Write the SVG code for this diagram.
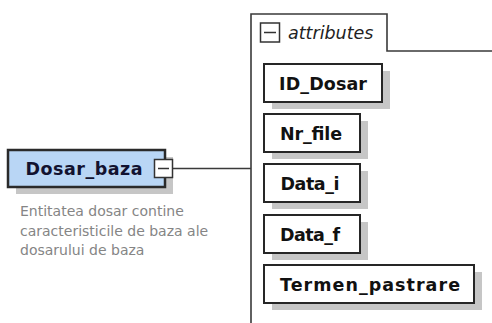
<svg xmlns="http://www.w3.org/2000/svg" width="492" height="323" viewBox="0 0 492 323">
<style>
.shadow{fill:#c6c6c6}
.box{fill:#ffffff;stroke:#262626;stroke-width:2}
.ent{fill:#b9d6f5;stroke:#2a2a2a;stroke-width:2.5}
.lbl{font-family:"DejaVu Sans",sans-serif;font-weight:bold;font-size:17.5px;fill:#111111;text-anchor:middle}
.entlbl{font-family:"DejaVu Sans",sans-serif;font-weight:bold;font-size:17.5px;fill:#121230;text-anchor:middle}
.desc{font-family:"DejaVu Sans",sans-serif;font-size:14px;fill:#858585}
.tab{font-family:"DejaVu Sans",sans-serif;font-style:italic;font-size:17.5px;fill:#222222}
.line{fill:none;stroke:#3a3a3a;stroke-width:1.6}
.tog{fill:#ffffff;stroke:#333333;stroke-width:1.5}
.minus{stroke:#333333;stroke-width:1.5}
</style>
<rect width="492" height="323" fill="#ffffff"/>
<g id="connectors">
<path class="line" d="M251,323 V14 H387 V51 H492"/>
<path class="line" d="M172.5,168.5 H251"/>
</g>
<g id="Dosar_baza">
<rect class="shadow" x="16" y="157" width="157" height="37"/>
<rect class="ent" x="8" y="150" width="157" height="37"/>
<text class="entlbl" x="84" y="175" textLength="117">Dosar_baza</text>
<rect class="tog" x="154.5" y="159.5" width="18" height="18"/>
<line class="minus" x1="158" y1="168.5" x2="169" y2="168.5"/>
<text class="desc" x="20" y="216">Entitatea dosar contine</text>
<text class="desc" x="20" y="235.5">caracteristicile de baza ale</text>
<text class="desc" x="20" y="255">dosarului de baza</text>
</g>
<g id="attributes">
<rect class="tog" x="260.5" y="23" width="19" height="19"/>
<line class="minus" x1="264" y1="32.5" x2="276" y2="32.5"/>
<text class="tab" x="288" y="39">attributes</text>
</g>
<g id="ID_Dosar">
<rect class="shadow" x="272" y="71" width="118" height="38"/>
<rect class="box" x="264" y="64" width="118" height="38"/>
<text class="lbl" x="323" y="89.5" textLength="88">ID_Dosar</text>
</g>
<g id="Nr_file">
<rect class="shadow" x="272" y="121" width="96" height="38"/>
<rect class="box" x="264" y="114" width="96" height="38"/>
<text class="lbl" x="311" y="139.5" textLength="62">Nr_file</text>
</g>
<g id="Data_i">
<rect class="shadow" x="272" y="171" width="96" height="38"/>
<rect class="box" x="264" y="164" width="96" height="38"/>
<text class="lbl" x="310" y="189.5" textLength="59">Data_i</text>
</g>
<g id="Data_f">
<rect class="shadow" x="272" y="222" width="96" height="38"/>
<rect class="box" x="264" y="215" width="96" height="38"/>
<text class="lbl" x="310" y="240.5" textLength="60">Data_f</text>
</g>
<g id="Termen_pastrare">
<rect class="shadow" x="272" y="272" width="210" height="38"/>
<rect class="box" x="264" y="265" width="210" height="38"/>
<text class="lbl" x="370" y="290.5" textLength="180">Termen_pastrare</text>
</g>
</svg>
